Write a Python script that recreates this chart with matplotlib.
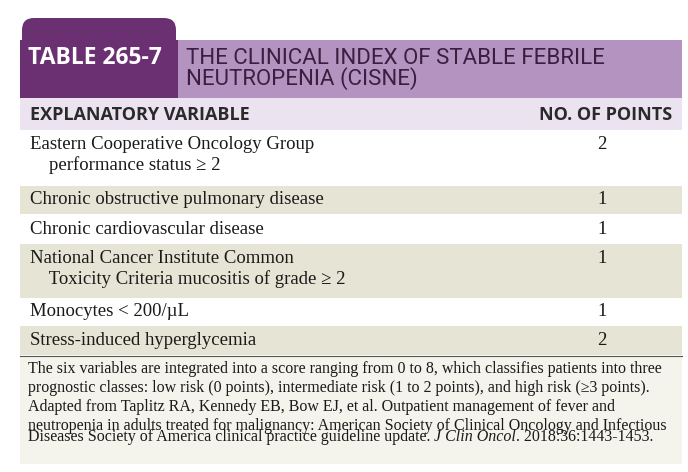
import matplotlib
matplotlib.use("Agg")
from matplotlib import pyplot as plt
from matplotlib.patches import Rectangle, FancyBboxPatch

# Dados da tabela
variaveis = [
    "Eastern Cooperative Oncology Group\n    performance status \u2265 2",
    "Chronic obstructive pulmonary disease",
    "Chronic cardiovascular disease",
    "National Cancer Institute Common\n    Toxicity Criteria mucositis of grade \u2265 2",
    "Monocytes < 200/\u00b5L",
    "Stress-induced hyperglycemia",
]
pontos = [2, 1, 1, 1, 1, 2]
linhas_y = [(130, 186), (186, 214), (214, 244), (244, 298), (298, 326), (326, 355)]
nota = ("The six variables are integrated into a score ranging from 0 to 8, which classifies patients into three\n"
        "prognostic classes: low risk (0 points), intermediate risk (1 to 2 points), and high risk (\u22653 points).\n"
        "Adapted from Taplitz RA, Kennedy EB, Bow EJ, et al. Outpatient management of fever and\n"
        "neutropenia in adults treated for malignancy: American Society of Clinical Oncology and Infectious")
nota_fim = ["Diseases Society of America clinical practice guideline update. ", "J Clin Oncol", ". 2018:36:1443-1453."]

fig = plt.figure(figsize=(6.88, 4.72), dpi=100)
ax = fig.add_axes([0, 0, 1, 1])
ax.set_xlim(0, 688)
ax.set_ylim(472, 0)
ax.axis("off")

roxo = "#6b3072"
lilas = "#b493c0"
bege = "#e6e4d4"
serif = "Liberation Serif"

# Cabecalho
ax.add_patch(FancyBboxPatch((22, 18), 154, 90, boxstyle="round,pad=0,rounding_size=12",
                            fc=roxo, ec="none"))
ax.add_patch(Rectangle((20, 40), 158, 58, fc=roxo, ec="none"))
ax.add_patch(Rectangle((178, 40), 504, 58, fc=lilas, ec="none"))
ax.add_patch(Rectangle((20, 98), 662, 32, fc="#ece3f0", ec="none"))

ax.text(28, 58, "TABLE 265-7", color="white", fontsize=16.5, fontweight="bold",
        family="Open Sans", va="center")
ax.text(186, 69, "THE CLINICAL INDEX OF STABLE FEBRILE\nNEUTROPENIA (CISNE)", color="#3a1f40",
        fontsize=16, family="Roboto", va="center", linespacing=0.9)
ax.text(30, 115, "EXPLANATORY VARIABLE", fontsize=13, fontweight="bold",
        family="Open Sans", va="center", color="#2a2a2a")
ax.text(672, 115, "NO. OF POINTS", fontsize=13, fontweight="bold",
        family="Open Sans", va="center", ha="right", color="#2a2a2a")

# Linhas da tabela
for i, (var, p, (y0, y1)) in enumerate(zip(variaveis, pontos, linhas_y)):
    if i % 2 == 1:
        ax.add_patch(Rectangle((20, y0), 662, y1 - y0, fc=bege, ec="none"))
    if "\n" in var:
        ax.text(30, y0 + 6, var, fontsize=13.5, family=serif, va="top",
                linespacing=1.2, color="#1a1a1a")
        ax.text(602, y0 + 6, str(p), fontsize=13.5, family=serif, va="top",
                ha="center", color="#1a1a1a")
    else:
        ym = (y0 + y1) / 2
        ax.text(30, ym, var, fontsize=13.5, family=serif, va="center", color="#1a1a1a")
        ax.text(602, ym, str(p), fontsize=13.5, family=serif, va="center",
                ha="center", color="#1a1a1a")

ax.plot([20, 682], [355.5, 355.5], color="#555555", lw=0.8)
ax.add_patch(Rectangle((20, 356), 662, 108, fc="#f4f3ec", ec="none"))
ax.text(28, 361, nota, fontsize=11.5, family=serif, va="top",
        linespacing=1.25, color="#1a1a1a")

# ultima linha da nota com trecho em italico
fig.canvas.draw()
r = fig.canvas.get_renderer()
x = 28
inv = ax.transData.inverted()
for j, trecho in enumerate(nota_fim):
    t = ax.text(x, 441, trecho, fontsize=11.5, family=serif, va="baseline",
                fontstyle="italic" if j == 1 else "normal", color="#1a1a1a")
    bb = t.get_window_extent(r)
    x = inv.transform((bb.x1, bb.y0))[0]

fig.savefig("out.png", dpi=100)
